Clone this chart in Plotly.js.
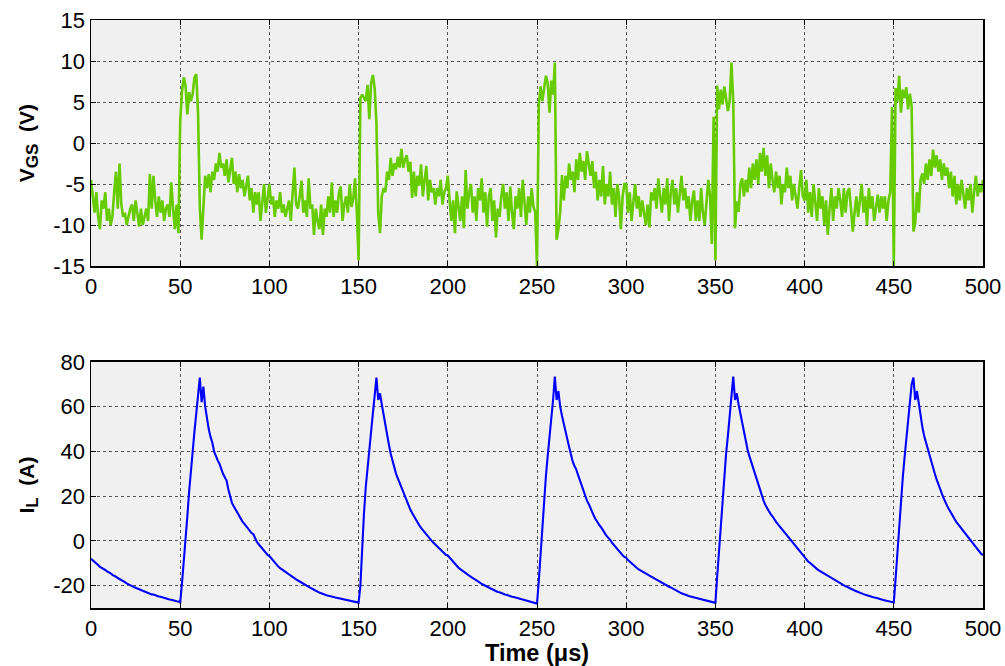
<!DOCTYPE html>
<html>
<head>
<meta charset="utf-8">
<script src="https://cdn.plot.ly/plotly-3.0.1.min.js"></script>
<style>html,body{margin:0;padding:0;background:#fff;}#chart{width:1005px;height:666px;}</style>
</head>
<body>
<div id="chart"></div>
<script>
// Time axis samples: one sample every 1 µs, 0..500 µs
const timeStart = 0, timeStep = 1;

// Gate-source voltage V_GS (V), one value per µs
const vgs = [
  -4.5,-6.5,-8.5,-6,-9,-10.5,-7,-8,-6,-9.5,
  -8,-10,-9,-6,-3.5,-8,-2.5,-7.5,-9,-8.5,
  -10,-9,-8,-7.5,-9.5,-7,-8.5,-10.2,-8,-10,
  -9,-8,-9.5,-3.8,-8,-4,-7,-9,-6.5,-8.5,
  -7,-9.5,-8,-7.5,-9,-4.8,-8,-10.5,-7.5,-11,
  2.6,6.3,8,7,3.5,6.2,5.1,6,8,8.4,
  3.7,-7.8,-11.8,-8,-4,-5.5,-3.8,-6,-3.5,-4.5,
  -2.5,-3.5,-1.2,-3,-2.5,-4,-2,-4.8,-3,-1.8,
  -5,-3.5,-6,-3.8,-5.5,-4.5,-6.5,-5,-4,-7,
  -5.5,-8.5,-6,-7.5,-6,-9.5,-7,-5,-8.5,-6.5,
  // 100
  -5,-7.5,-6.5,-9,-7,-8,-6,-8.5,-7.5,-9,
  -8,-7,-9.5,-6,-3,-7.5,-8,-6.5,-4.6,-8.5,
  -7,-9,-4.3,-8,-7.5,-11.2,-8,-9.5,-10.5,-7.5,
  -11.2,-8,-9,-6.5,-8.5,-4.8,-9,-7,-8.5,-6,
  -5.3,-9.5,-7.5,-6.5,-8.5,-5,-7.8,-6.8,-4.3,-8.4,
  -14.3,5.5,5.9,5.5,5.1,7.1,2.9,7.3,8.3,6.7,
  2.4,-8.5,-11,-6.5,-5.5,-6,-3.5,-4.5,-1.8,-4,
  -2.5,-3.2,-1.7,-3,-0.7,-3,-2,-1.5,-3.5,-2.3,
  -6.7,-3.5,-6.5,-4,-5.2,-2.6,-6.5,-4.5,-2.8,-7,
  -4.5,-6,-5.5,-7.5,-5.5,-6.5,-4.5,-7.5,-6,-5.5,
  // 200
  -4,-7,-9.5,-7,-11,-5.9,-8,-9.5,-6.5,-10.4,
  -3.3,-8,-6,-5,-8.5,-6.5,-9.5,-5.5,-7,-4.3,
  -8.5,-6,-10.2,-6.5,-5.5,-9.5,-7,-11.5,-8,-9,
  -6.5,-5,-8,-6,-9.5,-5.3,-8.5,-10.5,-6.5,-8,
  -5.5,-9,-4.5,-7.5,-10,-6.5,-8.5,-5.5,-7.8,-8.4,
  -15,4.7,6.9,5.1,6.7,8.2,7.3,3.7,7.6,5.9,
  9.8,-11.8,-10.5,-8.4,-3.9,-7,-4,-5.5,-2.5,-4.5,
  -3.5,-6,-2,-4.5,-1.2,-3.5,-2.2,-4.5,-1,-2.5,
  -4,-2.2,-5.5,-3.5,-7,-4.5,-6.5,-2.8,-7.5,-5,
  -6.5,-3.5,-7.5,-5.5,-9,-5,-6.5,-10.5,-6.5,-5,
  // 300
  -5,-8.5,-6,-9.5,-7.5,-5,-8,-6.5,-9,-7,
  -8.5,-10,-7.5,-10.3,-6,-7,-5.5,-8,-4.3,-6.5,
  -8.5,-5.5,-7.5,-4.3,-9.5,-6,-4.5,-7.5,-5.5,-8.5,
  -6,-4,-7,-5.5,-8,-6.5,-9.5,-7,-5.8,-9.5,
  -7,-9.5,-5.5,-8.5,-10,-7,-4.5,-6.5,-12.3,3.2,
  -14.3,7,4.1,6.5,4.7,6.9,5.5,3.9,5.1,9.8,
  5.1,-10.4,-7.1,-8.4,-5,-4.3,-6.5,-4.5,-6,-3,
  -5.5,-2.5,-4.5,-2,-5,-1.2,-3.5,-0.6,-4,-1.5,
  -5.5,-2.5,-4.5,-6,-3.5,-5.5,-4,-7.5,-5,-6,
  -3,-5.5,-4,-7,-5,-6.5,-8,-5.5,-3.3,-6.5,
  // 400
  -7,-4.5,-8.5,-6,-9,-5,-7.5,-9.5,-5.5,-8,
  -6.5,-10,-7,-11.2,-8,-5.5,-9.5,-6.5,-8,-5.5,
  -7,-9,-5.5,-8.5,-6,-5.5,-8,-10.8,-8.5,-6.5,
  -9,-7,-5,-8.5,-6.5,-10,-5.5,-8,-6.5,-9.5,
  -7.5,-6.3,-8.5,-6.5,-8,-6.5,-9.5,-7,-6,4.4,
  -15,6.7,5,8.2,3.7,6.5,5.5,6.8,4.1,6,
  4.5,-10.8,-9.8,-6,-8.5,-4.5,-3.7,-5,-2.5,-4.5,
  -2,-4,-0.8,-3,-1.5,-3.5,-2,-4.5,-2.5,-4,
  -3,-5.5,-3.5,-6.5,-4,-7.5,-5,-7,-4.5,-6.5,
  -8,-5.5,-7,-5,-8.5,-6,-4,-6.5,-5,-6,
  -4.5
];

// Inductor current I_L (A), one value per µs
const il = [
  -8,-8.6,-9.5,-10.2,-10.8,-11.6,-12,-12.4,-13,-13.6,
  -14,-14.5,-15.2,-15.5,-16,-16.6,-17,-17.3,-18,-18.4,
  -19,-19.5,-19.7,-20.2,-20.6,-21,-21.4,-21.6,-22.1,-22.3,
  -22.6,-23,-23.1,-23.5,-23.9,-24,-24.4,-24.5,-24.9,-25,
  -25.3,-25.4,-25.8,-25.9,-26.2,-26.3,-26.6,-26.7,-27,-27.1,
  -27.5,-19,-10,0,11,22,32,41,49,57,
  65,73,62,69,60,54,50,46.5,44,40,
  37.5,36,34.5,32,30,28.5,27,23,20,17,
  15.5,14,12.8,11,9.5,8.5,7.6,6.5,5.5,4.5,
  3.5,3,1,-0.5,-1.5,-2.5,-3.5,-4.5,-5.5,-6.3,
  // 100
  -6.8,-7.8,-8.7,-9.6,-10.6,-11.5,-12.2,-12.8,-13.3,-14,
  -14.4,-14.9,-15.5,-16.1,-16.6,-17.2,-17.7,-18.2,-18.7,-19.3,
  -19.7,-20.1,-20.6,-21,-21.4,-21.9,-22.2,-22.7,-23.1,-23.4,
  -23.8,-24,-24.3,-24.5,-24.8,-25,-25.1,-25.3,-25.5,-25.7,
  -25.9,-26.1,-26.2,-26.5,-26.6,-26.9,-27,-27.2,-27.3,-27.4,
  -27.6,-20,-2,12,24,33,42,50,57,65,
  73,63,66,61,56,51,47,43,39,36,
  32,30,28,26,24,22,19.5,17.5,15.5,14,
  12.5,11,9.5,8,7,5.8,4.8,3.8,2.5,1.7,
  0.8,0,-0.8,-1.6,-2.3,-3,-3.8,-4.5,-5.5,-6.3,
  // 200
  -6.5,-7.5,-8.5,-9.5,-10.3,-11.2,-12,-12.6,-13.3,-13.8,
  -14.5,-15,-15.5,-16.2,-16.6,-17.1,-17.7,-18.1,-18.8,-19.2,
  -19.6,-20.1,-20.4,-21,-21.3,-21.6,-22.1,-22.4,-22.8,-23,
  -23.4,-23.7,-24,-24.1,-24.5,-24.7,-25,-25.1,-25.4,-25.6,
  -25.8,-26,-26.2,-26.4,-26.6,-26.7,-27,-27.1,-27.4,-27.8,
  -28,-18,-6,8,18,29,38,46,54,63,
  73.5,63,67,60,56,52,48.5,45.5,42,38,
  35.5,33.5,32,29.5,27,25,22.5,20,18,16.5,
  14.5,12.5,11,9.5,8,7,6,5,3.5,2.2,
  1.5,0.5,-0.8,-1.8,-2.8,-3.6,-4.6,-5.5,-6.4,-7.2,
  // 300
  -7.6,-8.5,-9.3,-10,-10.8,-11.4,-12.1,-12.7,-13.2,-13.6,
  -14,-14.4,-15,-15.4,-15.9,-16.4,-16.9,-17.3,-17.8,-18.3,
  -18.8,-19.3,-19.7,-20.2,-20.5,-20.8,-21.3,-21.8,-22.2,-22.7,
  -23,-23.4,-23.6,-24,-24.3,-24.6,-24.8,-25,-25.3,-25.5,
  -25.8,-26,-26.2,-26.5,-26.7,-26.8,-27,-27.2,-27.5,-27.6,
  -27.7,-16,-4,8,19,30,39,47,55,63,
  73.5,63,66,61,57,52,48,44,41,38,
  35.5,33,30,27.5,25,22,20,18,16,14.5,
  13,12,11,9.5,8.5,7.5,6.5,5.5,4.5,3.5,
  2.5,1.5,0.6,-0.5,-1.5,-2.5,-3.5,-4.5,-5.5,-6.5,
  // 400
  -7.4,-8.3,-9.2,-9.8,-10.6,-11.3,-11.9,-12.6,-13.2,-13.7,
  -14.2,-14.6,-15,-15.6,-16.1,-16.7,-17.2,-17.6,-18.1,-18.7,
  -19,-19.4,-19.9,-20.3,-20.6,-21.1,-21.5,-21.8,-22.2,-22.5,
  -22.9,-23.2,-23.5,-23.8,-24.1,-24.4,-24.6,-24.8,-25,-25.3,
  -25.4,-25.7,-25.9,-26.1,-26.4,-26.6,-26.8,-27,-27.3,-27.4,
  -27.5,-17,-5,7,18,28,37,45,53,62,
  70,73,63,67,61,55,51,47,44,41,
  38,35,32.5,30,27.5,25,23,21,19,17,
  15.5,14,12.5,11,9.5,8.5,7.5,6.5,5,4,
  3,2,1,0,-1,-2,-3,-4,-5,-5.8,
  -6.3
];

// Tick labels
const xTicks = [0, 50, 100, 150, 200, 250, 300, 350, 400, 450, 500];
const vgsTicks = [-15, -10, -5, 0, 5, 10, 15];
const ilTicks = [-20, 0, 20, 40, 60, 80];

const tVgs = vgs.map((_, i) => timeStart + i * timeStep);
const tIl = il.map((_, i) => timeStart + i * timeStep);

const traces = [
  {x: tVgs, y: vgs, type: 'scatter', mode: 'lines', xaxis: 'x', yaxis: 'y',
   line: {color: '#66cc00', width: 2.6}, hoverinfo: 'skip'},
  {x: tIl, y: il, type: 'scatter', mode: 'lines', xaxis: 'x2', yaxis: 'y2',
   line: {color: '#0000ff', width: 2.1}, hoverinfo: 'skip'}
];

const axCommon = {
  ticks: 'inside', ticklen: 5, tickwidth: 1, tickcolor: '#000',
  showline: true, mirror: 'ticks', linecolor: '#000', linewidth: 1.5,
  showgrid: true, gridcolor: '#555555', griddash: 'dot', gridwidth: 1,
  zeroline: false, automargin: false,
  tickfont: {family: 'Liberation Sans, Arial, sans-serif', size: 22, color: '#000'}
};

const NB = '\u00A0';
const layout = Object.assign({
  width: 1005, height: 666,
  paper_bgcolor: '#ffffff', plot_bgcolor: '#f0f0f0',
  margin: {l: 91, r: 22, t: 20, b: 58},
  showlegend: false,
  font: {family: 'Liberation Sans, Arial, sans-serif', size: 22, color: '#000'},
  xaxis: Object.assign({}, axCommon, {domain: [0, 1], anchor: 'y', range: [0, 500],
    tickmode: 'array', tickvals: xTicks, ticktext: xTicks.map(String)}),
  yaxis: Object.assign({}, axCommon, {domain: [0.5816, 1], anchor: 'x', range: [-15, 15],
    tickmode: 'array', tickvals: vgsTicks, ticktext: vgsTicks.map(String),
    title: {text: '<b>V<sub><span style="font-size:17px">GS</span></sub>' + NB + NB + '(V)</b>', font: {size: 21}, standoff: 13}}),
  xaxis2: Object.assign({}, axCommon, {domain: [0, 1], anchor: 'y2', range: [0, 500],
    tickmode: 'array', tickvals: xTicks, ticktext: xTicks.map(String),
    title: {text: '<b>Time (μs)</b>', font: {size: 23.5}, standoff: 3}}),
  yaxis2: Object.assign({}, axCommon, {domain: [0, 0.4184], anchor: 'x2', range: [-30, 80],
    tickmode: 'array', tickvals: ilTicks, ticktext: ilTicks.map(String),
    title: {text: '<b>I<sub><span style="font-size:17px">L</span></sub>' + NB + NB + '(A)</b>', font: {size: 21}, standoff: 13}})
});

Plotly.newPlot('chart', traces, layout, {staticPlot: true, displayModeBar: false});
</script>
</body>
</html>
